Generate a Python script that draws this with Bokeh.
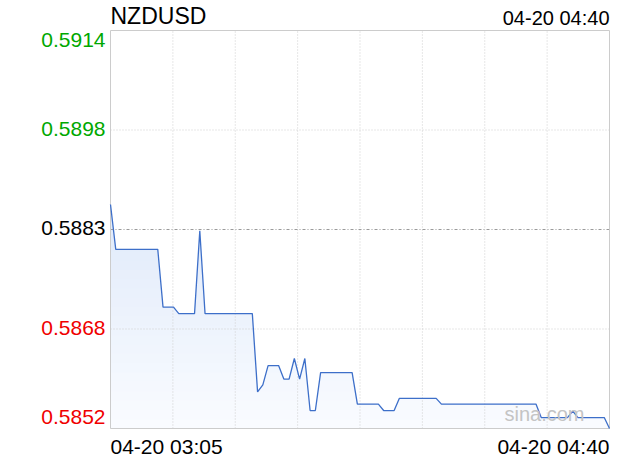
import numpy as np
import pandas as pd
from bokeh.plotting import figure
from bokeh.models import Range1d
from bokeh.core.properties import value
from bokeh.embed import file_html
from bokeh.resources import INLINE

# ---- data ----
symbol = "NZDUSD"
start_time = "2023-04-20 03:05"
prices = [
    0.58869,
    0.58799, 0.58799, 0.58799, 0.58799, 0.58799, 0.58799, 0.58799, 0.58799, 0.58799,
    0.58709, 0.58709, 0.58709,
    0.58699, 0.58699, 0.58699, 0.58699,
    0.58828,
    0.58699, 0.58699, 0.58699, 0.58699, 0.58699, 0.58699, 0.58699, 0.58699, 0.58699, 0.58699,
    0.58577, 0.58588,
    0.58618, 0.58618, 0.58618,
    0.58597, 0.58597,
    0.58629, 0.58597, 0.58629,
    0.58548, 0.58548,
    0.58607, 0.58607, 0.58607, 0.58607, 0.58607, 0.58607, 0.58607,
    0.58558, 0.58558, 0.58558, 0.58558, 0.58558,
    0.58548, 0.58548, 0.58548,
    0.58567, 0.58567, 0.58567, 0.58567, 0.58567, 0.58567, 0.58567, 0.58567,
    0.58558, 0.58558, 0.58558, 0.58558, 0.58558, 0.58558, 0.58558, 0.58558, 0.58558, 0.58558,
    0.58558, 0.58558, 0.58558, 0.58558, 0.58558, 0.58558, 0.58558, 0.58558, 0.58558,
    0.58537, 0.58537, 0.58537, 0.58537, 0.58537, 0.58537,
    0.58547,
    0.58537, 0.58537, 0.58537, 0.58537, 0.58537, 0.58537,
    0.58520,
]
prev_close = 0.5883
y_min, y_max = 0.5852, 0.5914
y_tick_values = [0.5914, 0.58985, 0.5883, 0.58675, 0.5852]
y_tick_labels = ["0.5914", "0.5898", "0.5883", "0.5868", "0.5852"]
x_tick_labels = ["04-20 03:05", "04-20 04:40"]
top_right_label = "04-20 04:40"
watermark = "sina.com"
n_vgrid = 8

times = pd.date_range(start_time, periods=len(prices), freq="min")
t_ms = (times.astype("int64") // 10**6).astype(float).to_numpy()
t0, t1 = float(t_ms[0]), float(t_ms[-1])
vals = np.array(prices)

# ---- layout (pixels) ----
W, H = 614, 458
BOX_L, BOX_R, BOX_T, BOX_B = 110, 609, 30, 428
x_per_px = (t1 - t0) / (BOX_R - BOX_L)
y_per_px = (y_max - y_min) / (BOX_B - BOX_T)

FONT = value("Liberation Sans")
GREEN, RED, BLACK = "#00a800", "#f00000", "#000000"

p = figure(width=W, height=H, x_axis_type="datetime",
           x_range=Range1d(t0 - BOX_L * x_per_px, t0 + (W - BOX_L) * x_per_px),
           y_range=Range1d(y_min - (H - BOX_B) * y_per_px, y_max + BOX_T * y_per_px),
           output_backend="svg", toolbar_location=None,
           min_border_left=0, min_border_right=0,
           min_border_top=0, min_border_bottom=0)
p.xaxis.visible = False
p.yaxis.visible = False
p.grid.visible = False
p.outline_line_color = None
p.background_fill_color = "white"
p.border_fill_color = "white"

# gradient fill under the line: stacked bands, then white mask above the line
n_bands = 24
fill_top = float(vals.max())
c_top = np.array([224, 234, 250])
c_bot = np.array([250, 252, 255])
for k in range(n_bands, 0, -1):
    lvl = y_min + (fill_top - y_min) * k / n_bands
    f = (lvl - y_min) / (fill_top - y_min)
    c = c_bot + (c_top - c_bot) * f
    col = "#%02x%02x%02x" % tuple(int(round(v)) for v in c)
    p.quad(left=[t0], right=[t1], bottom=[y_min], top=[lvl],
           fill_color=col, line_color=None)
p.varea(x=t_ms, y1=vals, y2=np.full(len(vals), y_max), fill_color="white")

# grid
gx = [t0 + (t1 - t0) * k / n_vgrid for k in range(1, n_vgrid)]
p.segment(x0=gx, y0=[y_min] * len(gx), x1=gx, y1=[y_max] * len(gx),
          line_color="#cfcfcf", line_dash="1 2", line_width=1)
gy = [y_tick_values[1], y_tick_values[3]]
p.segment(x0=[t0] * 2, y0=gy, x1=[t1] * 2, y1=gy,
          line_color="#cfcfcf", line_dash="1 2", line_width=1)
p.segment(x0=[t0], y0=[prev_close], x1=[t1], y1=[prev_close],
          line_color="#9a9a9a", line_dash="3 2 1 2", line_width=1)

# plot box
p.quad(left=[t0], right=[t1], bottom=[y_min], top=[y_max],
       fill_color=None, line_color="#cccccc", line_width=1)

# price line
p.line(t_ms, vals, line_color="#3d6fc9", line_width=1.3)

# y labels (text centred at the offset point)
label_colors = [GREEN, GREEN, BLACK, RED, RED]
y_offsets = [9, -1.5, -1.5, -1.5, -11.5]
for v, txt, col, yo in zip(y_tick_values, y_tick_labels, label_colors, y_offsets):
    p.text(x=[t0], y=[v], text=[txt], x_offset=-5, y_offset=yo,
           text_align="right", text_baseline="middle",
           text_font=FONT, text_font_size="21px", text_color=col)

# bottom time labels
p.text(x=[t0], y=[y_min], text=[x_tick_labels[0]], x_offset=0, y_offset=18,
       text_align="left", text_baseline="middle",
       text_font=FONT, text_font_size="21px", text_color=BLACK)
p.text(x=[t1], y=[y_min], text=[x_tick_labels[1]], x_offset=0, y_offset=18,
       text_align="right", text_baseline="middle",
       text_font=FONT, text_font_size="21px", text_color=BLACK)

# title and top-right time
p.text(x=[t0], y=[y_max], text=[symbol], x_offset=0, y_offset=-15,
       text_align="left", text_baseline="middle",
       text_font=FONT, text_font_size="23px", text_color=BLACK)
p.text(x=[t1], y=[y_max], text=[top_right_label], x_offset=0, y_offset=-12.5,
       text_align="right", text_baseline="middle",
       text_font=FONT, text_font_size="20px", text_color=BLACK)

# watermark
p.text(x=[t1], y=[y_min], text=[watermark], x_offset=-25, y_offset=-15,
       text_align="right", text_baseline="middle",
       text_font=FONT, text_font_size="20px", text_color="#c4c4c4")

open("out.html", "w").write(file_html(p, INLINE))
